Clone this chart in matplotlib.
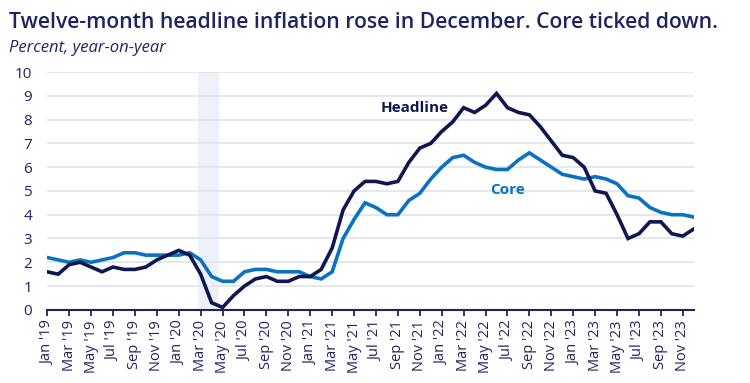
import numpy as np
import matplotlib.pyplot as plt

# ---- data (US CPI, % y/y, Jan 2019 - Dec 2023) ----
meses = ["Jan", "Feb", "Mar", "Apr", "May", "Jun", "Jul", "Aug", "Sep", "Oct", "Nov", "Dec"]
anios = ["19", "20", "21", "22", "23"]
etiquetas = [f"{m} '{a}" for a in anios for m in meses]

headline = [1.6, 1.5, 1.9, 2.0, 1.8, 1.6, 1.8, 1.7, 1.7, 1.8, 2.1, 2.3,
            2.5, 2.3, 1.5, 0.3, 0.1, 0.6, 1.0, 1.3, 1.4, 1.2, 1.2, 1.4,
            1.4, 1.7, 2.6, 4.2, 5.0, 5.4, 5.4, 5.3, 5.4, 6.2, 6.8, 7.0,
            7.5, 7.9, 8.5, 8.3, 8.6, 9.1, 8.5, 8.3, 8.2, 7.7, 7.1, 6.5,
            6.4, 6.0, 5.0, 4.9, 4.0, 3.0, 3.2, 3.7, 3.7, 3.2, 3.1, 3.4]

core = [2.2, 2.1, 2.0, 2.1, 2.0, 2.1, 2.2, 2.4, 2.4, 2.3, 2.3, 2.3,
        2.3, 2.4, 2.1, 1.4, 1.2, 1.2, 1.6, 1.7, 1.7, 1.6, 1.6, 1.6,
        1.4, 1.3, 1.6, 3.0, 3.8, 4.5, 4.3, 4.0, 4.0, 4.6, 4.9, 5.5,
        6.0, 6.4, 6.5, 6.2, 6.0, 5.9, 5.9, 6.3, 6.6, 6.3, 6.0, 5.7,
        5.6, 5.5, 5.6, 5.5, 5.3, 4.8, 4.7, 4.3, 4.1, 4.0, 4.0, 3.9]

# recesion (feb-abr 2020), en indices de mes
recesion = (13.75, 15.65)

#--------colores--------
navy = "#10164f"
azul = "#0a72c2"
texto = "#1f2460"

plt.rcParams['font.family'] = ['Open Sans', 'DejaVu Sans']

fig = plt.figure(figsize=(7.5, 3.83), dpi=100)
ax = fig.add_axes([0.063, 0.191, 0.862, 0.621])

x = np.arange(len(headline))

ax.axvspan(*recesion, color="#eef1f7", zorder=0, lw=0)
ax.plot(x, core, color=azul, lw=2.6, solid_joinstyle="miter", zorder=3)
ax.plot(x, headline, color=navy, lw=2.6, solid_joinstyle="miter", zorder=4)

ax.set_xlim(0, len(x) - 1)
ax.set_ylim(0, 10)
ax.set_yticks(range(0, 11))
ax.set_xticks(x[::2])
ax.set_xticklabels(etiquetas[::2], rotation=90)

ax.grid(axis="y", color="#e3e5ee", lw=1.3, zorder=1)
ax.set_axisbelow(True)
for s in ["top", "right", "left"]:
    ax.spines[s].set_visible(False)
ax.spines["bottom"].set_color(texto)
ax.spines["bottom"].set_linewidth(1.5)
ax.spines["bottom"].set_zorder(5)

ax.tick_params(axis="x", colors=texto, labelsize=10.5, length=4, width=1.3, direction="out")
ax.tick_params(axis="y", colors=texto, labelsize=11, length=0, pad=11)

ax.text(30.4, 8.5, "Headline", color=navy, fontsize=11, fontweight="bold", va="center")
ax.text(40.4, 5.05, "Core", color=azul, fontsize=11, fontweight="bold", va="center")

fig.text(0.012, 0.94, "Twelve-month headline inflation rose in December. Core ticked down.",
         color=texto, fontsize=15.2, fontweight="semibold", va="center")
fig.text(0.012, 0.875, "Percent, year-on-year", color=texto, fontsize=12,
         style="italic", va="center")

plt.savefig("out.png", dpi=100)
